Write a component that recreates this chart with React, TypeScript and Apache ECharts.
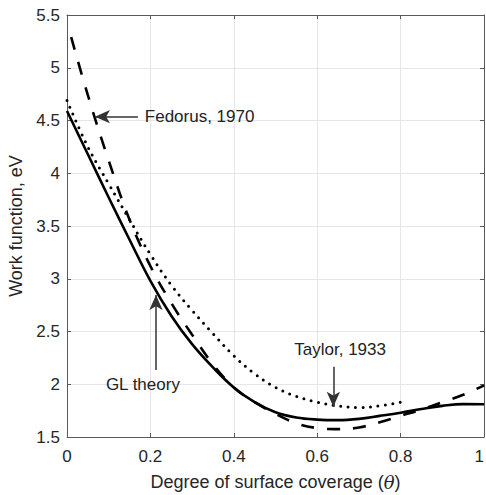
import React, { useEffect, useRef } from "react";
import * as echarts from "echarts";

// Degree of surface coverage (theta) sample points
const glX = [0, 0.05, 0.1, 0.15, 0.2, 0.25, 0.3, 0.35, 0.4, 0.45, 0.5, 0.55, 0.6, 0.65, 0.7, 0.75, 0.8, 0.85, 0.9, 0.95, 1.0];
const glY = [4.59, 4.18, 3.77, 3.37, 2.98, 2.65, 2.38, 2.16, 1.97, 1.83, 1.735, 1.685, 1.665, 1.66, 1.672, 1.7, 1.73, 1.765, 1.795, 1.812, 1.81];

const fedX = [0.01, 0.05, 0.1, 0.15, 0.2, 0.25, 0.3, 0.35, 0.4, 0.45, 0.5, 0.55, 0.6, 0.65, 0.7, 0.75, 0.8, 0.85, 0.9, 0.95, 1.0];
const fedY = [5.29, 4.74, 4.12, 3.56, 3.12, 2.77, 2.47, 2.19, 1.97, 1.83, 1.72, 1.63, 1.585, 1.575, 1.59, 1.64, 1.7, 1.76, 1.83, 1.9, 1.99];

const taylorX = [0, 0.05, 0.1, 0.15, 0.2, 0.25, 0.3, 0.35, 0.4, 0.45, 0.5, 0.55, 0.6, 0.65, 0.7, 0.75, 0.8];
const taylorY = [4.69, 4.25, 3.9, 3.56, 3.23, 2.94, 2.7, 2.48, 2.27, 2.1, 1.97, 1.885, 1.83, 1.795, 1.78, 1.795, 1.83];

const xTicks = [0, 0.2, 0.4, 0.6, 0.8, 1];
const yTicks = [1.5, 2, 2.5, 3, 3.5, 4, 4.5, 5, 5.5];

// annotation texts and arrows (data coordinates)
const annoLabels = ["Fedorus, 1970", "GL theory", "Taylor, 1933"];
const annoText = [[0.318, 4.536], [0.182, 1.993], [0.655, 2.33]];
const annoFrom = [[0.17, 4.536], [0.2134, 2.135], [0.6387, 2.166]];
const annoTo = [[0.067, 4.536], [0.2134, 2.846], [0.6387, 1.787]];

const FONT = "'Liberation Sans', Arial, Helvetica, sans-serif";
const zip = (xs: number[], ys: number[]) => xs.map((x, i) => [x, ys[i]]);

export default function App() {
  const ref = useRef<HTMLDivElement>(null);
  useEffect(() => {
    const chart = echarts.init(ref.current!, null, { renderer: "svg" });
    const axisColor = "#5a5a5a";
    const common = {
      type: "value" as const,
      axisLine: { show: true, onZero: false, lineStyle: { color: axisColor, width: 1 } },
      axisTick: { show: true, inside: true, length: 4, lineStyle: { color: axisColor } },
    };
    chart.setOption({
      animation: false,
      backgroundColor: "#ffffff",
      grid: { left: 67, top: 15, width: 417, height: 422, containLabel: false, outerBoundsMode: "none" },
      xAxis: [
        {
          ...common,
          min: xTicks[0],
          max: xTicks[xTicks.length - 1],
          interval: 0.2,
          position: "bottom",
          axisLabel: { color: "#262626", fontSize: 17, margin: 11, fontFamily: FONT, alignMaxLabel: "right" },
          splitLine: { show: true, lineStyle: { color: "#e6e6e6", width: 1 } },
          name: "Degree of surface coverage ({i|θ})",
          nameLocation: "middle",
          nameGap: 36,
          nameTextStyle: {
            color: "#262626",
            fontSize: 18,
            fontFamily: FONT,
            rich: { i: { fontStyle: "italic", fontSize: 18, fontFamily: "'DejaVu Serif', serif", color: "#262626" } },
          },
        },
        {
          ...common,
          min: xTicks[0],
          max: xTicks[xTicks.length - 1],
          interval: 0.2,
          position: "top",
          axisLabel: { show: false },
          splitLine: { show: false },
        },
      ],
      yAxis: [
        {
          ...common,
          min: yTicks[0],
          max: yTicks[yTicks.length - 1],
          interval: 0.5,
          position: "left",
          axisLabel: { color: "#262626", fontSize: 17, margin: 7, fontFamily: FONT },
          splitLine: { show: true, lineStyle: { color: "#e6e6e6", width: 1 } },
          name: "Work function, eV",
          nameLocation: "middle",
          nameGap: 36,
          nameTextStyle: { color: "#262626", fontSize: 18, fontFamily: FONT },
        },
        {
          ...common,
          min: yTicks[0],
          max: yTicks[yTicks.length - 1],
          interval: 0.5,
          position: "right",
          axisLabel: { show: false },
          splitLine: { show: false },
        },
      ],
      series: [
        {
          name: "GL theory",
          type: "line",
          data: zip(glX, glY),
          showSymbol: false,
          symbol: "none",
          smooth: 0.4,
          lineStyle: { color: "#000", width: 2.6, type: "solid" },
          z: 3,
        },
        {
          name: "Fedorus, 1970",
          type: "line",
          data: zip(fedX, fedY),
          showSymbol: false,
          symbol: "none",
          smooth: 0.4,
          lineStyle: { color: "#000", width: 2.6, type: [13, 13] },
          z: 3,
        },
        {
          name: "Taylor, 1933",
          type: "line",
          data: zip(taylorX, taylorY),
          showSymbol: false,
          symbol: "none",
          smooth: 0.4,
          lineStyle: { color: "#000", width: 3, type: [0, 7.5], cap: "round" },
          z: 3,
        },
        {
          name: "annotations",
          type: "line",
          data: [],
          silent: true,
          z: 4,
          markLine: {
            silent: true,
            animation: false,
            label: { show: false },
            lineStyle: { color: "#333", width: 1.5, type: "solid" },
            data: annoFrom.map((f, i) => [
              { coord: f, symbol: "none" },
              { coord: annoTo[i], symbol: "arrow", symbolSize: [10, 15] },
            ]),
          },
          markPoint: {
            silent: true,
            animation: false,
            symbol: "circle",
            symbolSize: 0,
            itemStyle: { color: "transparent" },
            label: {
              show: true,
              position: "inside",
              color: "#222",
              fontSize: 17,
              fontFamily: FONT,
              formatter: (p: any) => p.name,
            },
            data: annoLabels.map((name, i) => ({ name, coord: annoText[i] })),
          },
        },
      ],
    });
    return () => chart.dispose();
  }, []);
  return (
    <div
      ref={ref}
      style={{ position: "absolute", left: 0, top: 0, width: 486, height: 495, background: "#fff" }}
    />
  );
}
